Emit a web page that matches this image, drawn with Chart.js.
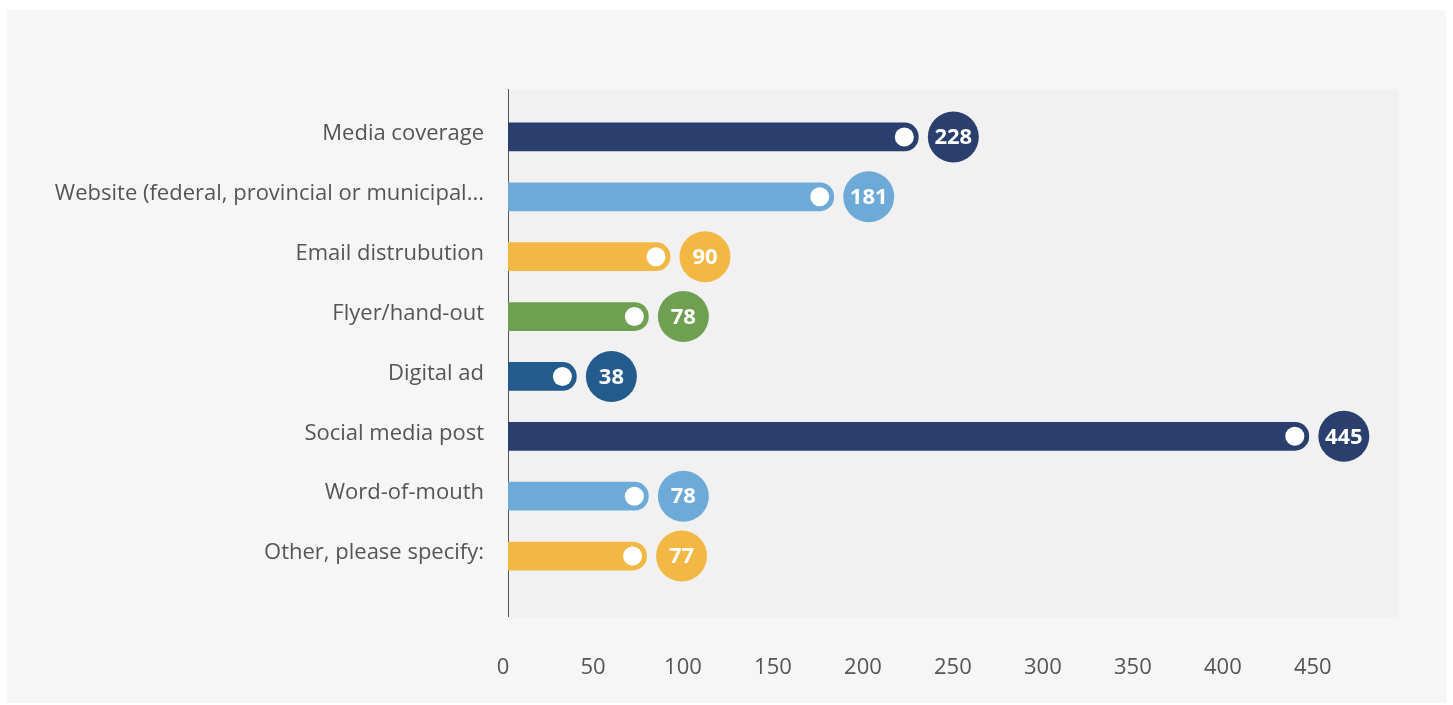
<!DOCTYPE html>
<html>
<head>
<meta charset="utf-8">
<script src="https://cdn.jsdelivr.net/npm/chart.js@4.4.1/dist/chart.umd.min.js"></script>
<style>
  html, body { margin: 0; padding: 0; background: #ffffff; }
  #wrap { position: relative; width: 1453px; height: 705px; }
  canvas { display: block; }
</style>
</head>
<body>
<div id="wrap"><canvas id="c" width="1453" height="705"></canvas></div>
<script>
const categories = [
  "Media coverage",
  "Website (federal, provincial or municipal...",
  "Email distrubution",
  "Flyer/hand-out",
  "Digital ad",
  "Social media post",
  "Word-of-mouth",
  "Other, please specify:"
];
const values = [228, 181, 90, 78, 38, 445, 78, 77];
const barColors = ["#2b3f6f", "#6eaad8", "#f2b843", "#6fa052", "#225b8c", "#2b3f6f", "#6eaad8", "#f2b843"];
const tickValues = [0, 50, 100, 150, 200, 250, 300, 350, 400, 450];
const axisMax = 494;

const FONT = "'Open Sans', 'Noto Sans', sans-serif";

const bgPlugin = {
  id: 'bgPanels',
  beforeDraw(chart) {
    const ctx = chart.ctx;
    const a = chart.chartArea;
    ctx.save();
    ctx.fillStyle = '#ffffff';
    ctx.fillRect(0, 0, chart.width, chart.height);
    ctx.fillStyle = '#f6f6f6';
    ctx.fillRect(7, 10, 1439, 693);
    ctx.fillStyle = '#f1f1f1';
    ctx.fillRect(a.left, a.top - 18, a.right - a.left + 2, a.bottom - a.top + 49);
    ctx.strokeStyle = '#555555';
    ctx.lineWidth = 1;
    ctx.beginPath();
    ctx.moveTo(a.left + 0.5, a.top - 18);
    ctx.lineTo(a.left + 0.5, a.bottom + 31);
    ctx.stroke();
    ctx.restore();
  }
};

const markPlugin = {
  id: 'marks',
  afterDatasetsDraw(chart) {
    const ctx = chart.ctx;
    const meta = chart.getDatasetMeta(0);
    ctx.save();
    meta.data.forEach((bar, i) => {
      const x = bar.x, y = bar.y;
      ctx.fillStyle = '#ffffff';
      ctx.beginPath();
      ctx.arc(x - 14, y, 9.5, 0, Math.PI * 2);
      ctx.fill();
      const cx = x + 35;
      ctx.fillStyle = barColors[i];
      ctx.beginPath();
      ctx.arc(cx, y, 25.5, 0, Math.PI * 2);
      ctx.fill();
      ctx.fillStyle = '#ffffff';
      ctx.font = "bold 22px " + FONT;
      ctx.textAlign = 'center';
      ctx.textBaseline = 'middle';
      ctx.fillText(String(values[i]), cx, y + 1);
    });
    ctx.restore();
  }
};

new Chart(document.getElementById('c'), {
  type: 'bar',
  data: {
    labels: categories,
    datasets: [{
      data: values,
      backgroundColor: barColors,
      borderWidth: 0,
      borderRadius: 14,
      borderSkipped: 'start',
      barThickness: 28
    }]
  },
  options: {
    indexAxis: 'y',
    responsive: false,
    animation: false,
    devicePixelRatio: 1,
    layout: { padding: { top: 107, right: 56, bottom: 0, left: 0 } },
    plugins: { legend: { display: false }, tooltip: { enabled: false } },
    scales: {
      x: {
        min: 0,
        max: axisMax,
        grid: { display: false, drawTicks: false },
        border: { display: false },
        afterBuildTicks(scale) {
          scale.ticks = tickValues.map(v => ({ value: v }));
        },
        afterFit(scale) { scale.height = 119; },
        ticks: {
          padding: 69,
          labelOffset: -5,
          color: '#555555',
          font: { family: FONT, size: 22 },
          maxRotation: 0,
          autoSkip: false
        }
      },
      y: {
        grid: { display: false, drawTicks: false },
        border: { display: false },
        afterFit(scale) { scale.width = 508; },
        ticks: {
          padding: 24,
          color: '#555555',
          font: { family: FONT, size: 22 },
          labelOffset: -3
        }
      }
    }
  },
  plugins: [bgPlugin, markPlugin]
});
</script>
</body>
</html>
